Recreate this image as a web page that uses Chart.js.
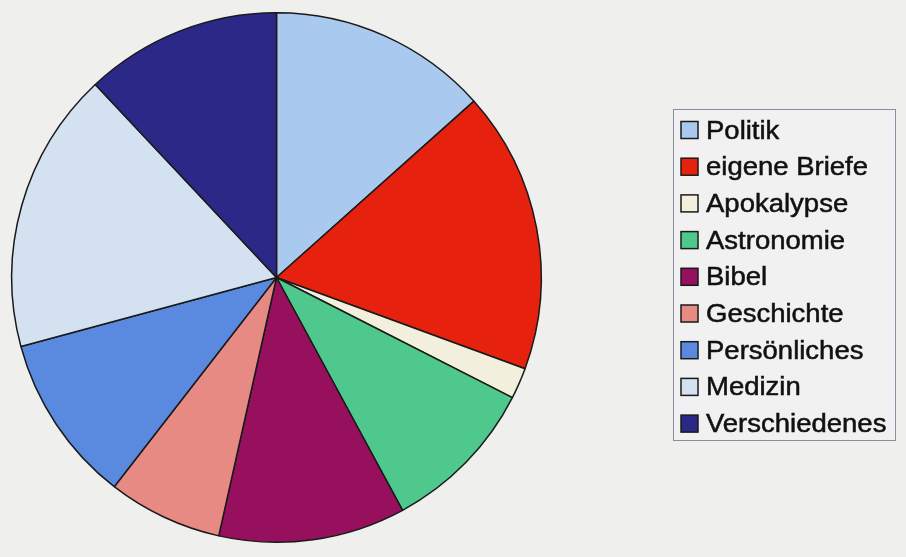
<!DOCTYPE html>
<html>
<head>
<meta charset="utf-8">
<script src="https://cdn.jsdelivr.net/npm/chart.js@4.4.0/dist/chart.umd.min.js"></script>
<style>
  html, body { margin: 0; padding: 0; background: #efefed; }
  canvas { display: block; }
</style>
</head>
<body>
<canvas id="myChart" width="906" height="557"></canvas>
<script>
// Themen und Anteile (Prozent, aus dem Bild geschätzt)
const categories = ['Politik', 'eigene Briefe', 'Apokalypse', 'Astronomie', 'Bibel',
  'Geschichte', 'Persönliches', 'Medizin', 'Verschiedenes'];
const shares = [13.4, 17.2, 1.9, 9.6, 11.4, 7.0, 10.3, 17.2, 12.0];
const sliceColors = ['#a9caee', '#e6220e', '#f2f0dc', '#4fc88e', '#96105e',
  '#e88a84', '#5a8ae0', '#d3e1f1', '#2c2888'];

// Legende mit Rahmen rechts neben dem Kreis
const boxLegend = {
  id: 'boxLegend',
  afterDraw(chart) {
    const ctx = chart.ctx;
    const labels = chart.data.labels;
    const colors = chart.data.datasets[0].backgroundColor;
    ctx.save();
    ctx.fillStyle = '#f1f1f1';
    ctx.fillRect(673.5, 109.5, 222, 331);
    ctx.strokeStyle = '#8c8ca2';
    ctx.lineWidth = 1;
    ctx.strokeRect(673.5, 109.5, 222, 331);
    ctx.font = '25px "Liberation Sans", Arial, sans-serif';
    ctx.textBaseline = 'alphabetic';
    labels.forEach((label, i) => {
      const base = 138.5 + i * 36.7;
      ctx.fillStyle = colors[i];
      ctx.fillRect(681, base - 17, 17, 17);
      ctx.strokeStyle = '#1a1a1a';
      ctx.lineWidth = 1.5;
      ctx.strokeRect(681, base - 17, 17, 17);
      ctx.save();
      ctx.translate(706, base);
      ctx.scale(1.1, 1);
      ctx.fillStyle = '#111111';
      ctx.strokeStyle = '#111111';
      ctx.lineWidth = 0.5;
      ctx.fillText(label, 0, 0);
      ctx.strokeText(label, 0, 0);
      ctx.restore();
    });
    ctx.restore();
  }
};

const ctx = document.getElementById('myChart').getContext('2d');
new Chart(ctx, {
  type: 'pie',
  data: {
    labels: categories,
    datasets: [{
      data: shares,
      backgroundColor: sliceColors,
      borderColor: '#1a1a1a',
      borderWidth: 1.5
    }]
  },
  options: {
    responsive: false,
    animation: false,
    layout: {
      padding: { left: 11, right: 364, top: 12, bottom: 14 }
    },
    plugins: {
      legend: { display: false },
      tooltip: { enabled: false }
    }
  },
  plugins: [boxLegend]
});
</script>
</body>
</html>
